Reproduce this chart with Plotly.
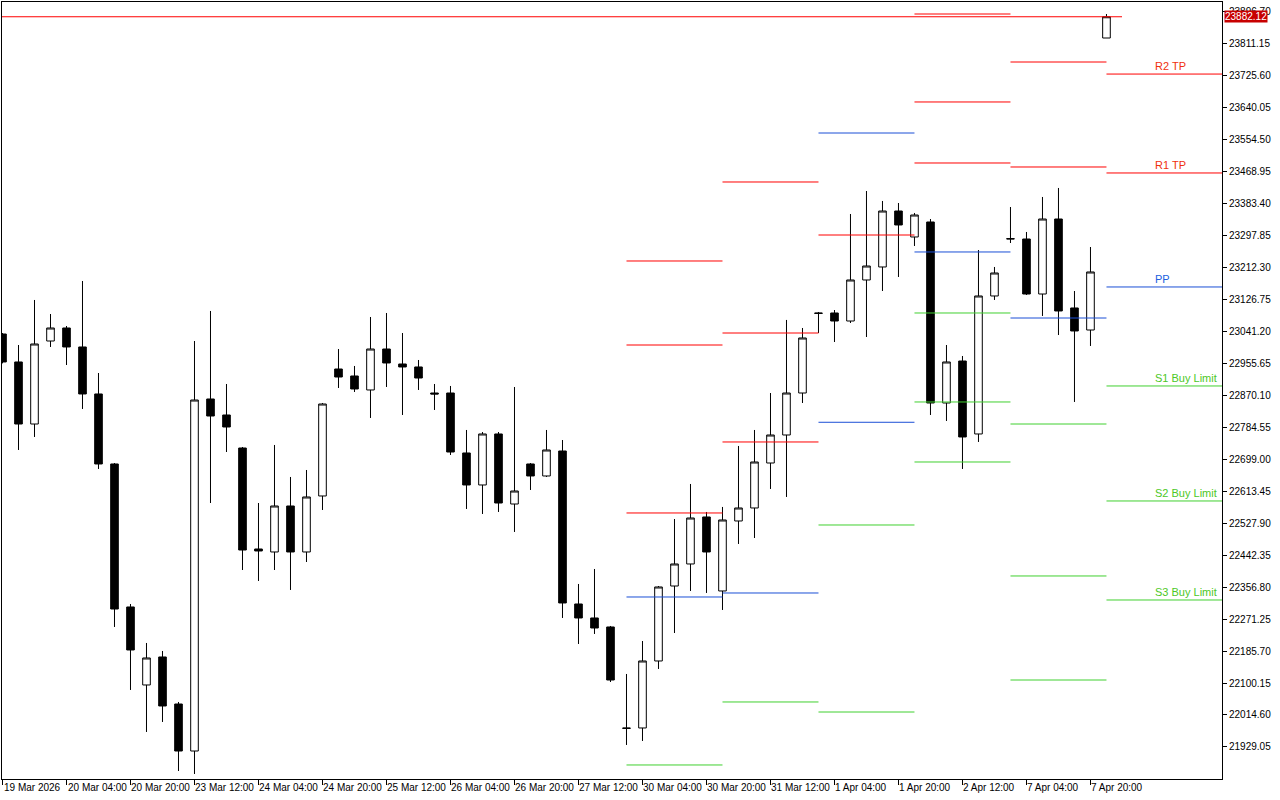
import plotly.graph_objects as go

# ---------------- data ----------------
x_tick_idx = [0, 4, 8, 12, 16, 20, 24, 28, 32, 36, 40, 44, 48, 52, 56, 60, 64, 68]
x_tick_labels = ["19 Mar 2026", "20 Mar 04:00", "20 Mar 20:00", "23 Mar 12:00", "24 Mar 04:00",
                 "24 Mar 20:00", "25 Mar 12:00", "26 Mar 04:00", "26 Mar 20:00", "27 Mar 12:00",
                 "30 Mar 04:00", "30 Mar 20:00", "31 Mar 12:00", "1 Apr 04:00", "1 Apr 20:00",
                 "2 Apr 12:00", "7 Apr 04:00", "7 Apr 20:00"]

y_tick_vals = [21929.05, 22014.60, 22100.15, 22185.70, 22271.25, 22356.80, 22442.35, 22527.90,
               22613.45, 22699.00, 22784.55, 22870.10, 22955.65, 23041.20, 23126.75, 23212.30,
               23297.85, 23383.40, 23468.95, 23554.50, 23640.05, 23725.60, 23811.15, 23896.70]

opens = [23033.6, 22958.8, 22792.9, 23014.9, 23049.7, 22998.9, 22873.2, 22686.0, 22303.5, 22094.9,
         22169.8, 22044.0, 21918.3, 22859.8, 22817.0, 22728.7, 22458.6, 22450.6, 22573.6, 22450.6,
         22600.4, 22940.0, 22921.3, 22883.9, 22993.5, 22953.4, 22945.4, 22875.8, 22875.8, 22715.4,
         22629.8, 22766.2, 22578.9, 22686.0, 22653.9, 22720.7, 22311.5, 22274.1, 22250.0, 21979.9,
         21979.9, 22159.1, 22359.6, 22418.5, 22544.2, 22346.3, 22533.5, 22568.3, 22688.6, 22763.5,
         22875.8, 23089.8, 23089.8, 23068.4, 23178.1, 23212.9, 23362.6, 23293.1, 23333.2, 22849.1,
         22961.4, 22766.2, 23135.3, 23287.7, 23287.7, 23140.6, 23341.2, 23103.2, 23044.3, 23825.3]
highs = [23036.3, 23004.2, 23124.6, 23087.1, 23055.0, 23175.4, 22929.3, 22688.6, 22311.5, 22207.2,
         22185.8, 22049.4, 23014.9, 23095.2, 22899.9, 22731.4, 22581.6, 22736.8, 22651.2, 22669.9,
         22849.1, 22993.5, 22948.1, 23079.1, 23089.8, 23036.3, 22964.1, 22899.9, 22894.6, 22776.9,
         22771.5, 22771.5, 22891.9, 22688.6, 22776.9, 22750.1, 22365.0, 22405.1, 22252.7, 22124.3,
         22212.5, 22359.6, 22538.8, 22632.5, 22557.6, 22571.0, 22734.1, 22776.9, 22875.8, 23071.2,
         23049.7, 23092.5, 23097.8, 23354.6, 23416.1, 23389.4, 23384.0, 23357.3, 23341.2, 23004.2,
         22974.8, 23258.3, 23212.9, 23373.3, 23306.5, 23400.1, 23424.2, 23148.6, 23266.3, 23889.5]
lows = [22955.0, 22723.4, 22758.2, 22998.9, 22950.7, 22833.1, 22672.6, 22250.0, 22081.5, 21969.2,
        21995.9, 21864.8, 21856.8, 22581.6, 22718.0, 22402.4, 22373.0, 22402.4, 22349.0, 22423.8,
        22562.9, 22889.2, 22878.5, 22809.0, 22891.9, 22817.0, 22883.9, 22830.4, 22710.0, 22565.6,
        22552.2, 22557.6, 22504.1, 22616.4, 22651.2, 22274.1, 22204.5, 22231.3, 22102.8, 21934.4,
        21945.1, 22137.7, 22233.9, 22346.3, 22341.0, 22295.5, 22472.0, 22488.0, 22619.1, 22597.7,
        22849.1, 23036.3, 23012.2, 23063.0, 23025.6, 23148.6, 23186.1, 23269.0, 22817.0, 22801.0,
        22672.6, 22744.8, 23124.6, 23277.0, 23138.0, 23081.8, 23030.9, 22851.8, 23001.6, 23825.3]
closes = [22958.8, 22792.9, 23006.9, 23049.7, 22998.9, 22873.2, 22686.0, 22298.1, 22188.5, 22167.1,
          22038.7, 21918.3, 22857.1, 22814.3, 22784.9, 22455.9, 22453.3, 22573.6, 22450.6, 22597.7,
          22846.4, 22918.6, 22886.6, 22993.5, 22956.1, 22945.4, 22915.9, 22873.2, 22718.0, 22629.8,
          22766.2, 22581.6, 22613.7, 22653.9, 22723.4, 22314.2, 22274.1, 22247.3, 22108.2, 21978.9,
          22159.1, 22357.0, 22418.5, 22541.5, 22450.6, 22536.2, 22568.3, 22691.3, 22763.5, 22875.8,
          23023.0, 23088.8, 23068.4, 23178.1, 23215.5, 23362.6, 23325.2, 23351.9, 22849.1, 22958.8,
          22758.2, 23135.3, 23196.8, 23288.5, 23140.6, 23341.2, 23095.2, 23041.7, 23199.5, 23882.12]

# daily pivot levels (start / end candle index of each day)
day_start = [39, 45, 51, 57, 63, 69]
day_end = [45, 51, 57, 63, 69, 80]
lvl_R3 = [23228.9, 23440.2, None, 23889.5, None, None]
lvl_R2 = [23004.2, 23036.3, 23571.2, 23654.2, 23761.1, 23728.9]
lvl_R1 = [22554.9, 22744.8, 23298.4, 23491.0, 23480.3, 23464.3]
lvl_PP = [22330.2, 22340.9, 22797.5, 23253.0, 23076.4, 23159.4]
lvl_S1 = [21880.9, 22049.4, 22522.8, 23089.8, 22792.9, 22894.6]
lvl_S2 = [None, None, 22022.6, 22851.8, 22386.4, 22587.0]
lvl_S3 = [None, None, None, 22691.3, 22108.2, 22322.2]

level_labels = ["R2 TP", "R1 TP", "PP", "S1 Buy Limit", "S2 Buy Limit", "S3 Buy Limit"]

bid_price = 23882.12

RED = "#ff0000"
BLUE = "#1a4fd6"
GREEN = "#40d030"

# colour of each level's segment, day by day
col_R3 = [RED] * 6
col_R2 = [RED, RED, BLUE, RED, RED, RED]
col_R1 = [RED] * 6
col_PP = [BLUE] * 6
col_S1 = [GREEN] * 6
col_S2 = [GREEN] * 6
col_S3 = [GREEN] * 6

# ---------------- figure ----------------
n = len(opens)
xs = list(range(n))
fig = go.Figure()
fig.add_trace(go.Candlestick(
    x=xs, open=opens, high=highs, low=lows, close=closes,
    increasing=dict(line=dict(color="black", width=1), fillcolor="white"),
    decreasing=dict(line=dict(color="black", width=1), fillcolor="black"),
    whiskerwidth=0, showlegend=False, hoverinfo="skip"))


def add_level(levels, colors):
    by_col = {}
    for s, e, v, c in zip(day_start, day_end, levels, colors):
        if v is None:
            continue
        px, py = by_col.setdefault(c, ([], []))
        px += [s, e, None]
        py += [v, v, None]
    for c, (px, py) in by_col.items():
        fig.add_trace(go.Scatter(x=px, y=py, mode="lines", line=dict(color=c, width=1),
                                 showlegend=False, hoverinfo="skip"))


for lv, cols in [(lvl_R3, col_R3), (lvl_R2, col_R2), (lvl_R1, col_R1), (lvl_PP, col_PP),
                 (lvl_S1, col_S1), (lvl_S2, col_S2), (lvl_S3, col_S3)]:
    add_level(lv, cols)

# bid line
fig.add_trace(go.Scatter(x=[-1, 69.97], y=[bid_price, bid_price], mode="lines",
                         line=dict(color=RED, width=1), showlegend=False, hoverinfo="skip"))

annotations = []
label_levels = [lvl_R2[-1], lvl_R1[-1], lvl_PP[-1], lvl_S1[-1], lvl_S2[-1], lvl_S3[-1]]
label_colors = ["#f0300c", "#f0300c", "#2060e0", "#4cc826", "#4cc826", "#4cc826"]
for txt, v, c in zip(level_labels, label_levels, label_colors):
    annotations.append(dict(x=71.9, y=v, xref="x", yref="y", text=txt, showarrow=False,
                            xanchor="left", yanchor="bottom", yshift=0,
                            font=dict(family="Liberation Sans", size=11, color=c)))

for xi, t in zip(x_tick_idx, x_tick_labels):
    annotations.append(dict(x=xi, y=0, xref="x", yref="paper", text=t, showarrow=False,
                            xanchor="left", yanchor="top", xshift=-1, yshift=-1,
                            font=dict(family="Liberation Sans", size=10, color="black")))

annotations.append(dict(x=1, y=bid_price, xref="paper", yref="y", text=f"{bid_price:.2f}",
                        showarrow=False, xanchor="left", yanchor="middle", xshift=2,
                        bgcolor="#c80000", borderpad=0,
                        font=dict(family="Liberation Sans", size=10, color="white")))

fig.update_layout(
    width=1280, height=800,
    margin=dict(l=2, r=58, t=2, b=21, autoexpand=False),
    paper_bgcolor="white", plot_bgcolor="white",
    showlegend=False, boxgap=0.32,
    annotations=annotations,
)
fig.update_xaxes(range=[-0.031, 76.22], showgrid=False, zeroline=False,
                 showline=True, linecolor="black", linewidth=1, mirror=True,
                 ticks="outside", ticklen=5, tickcolor="black",
                 tickvals=x_tick_idx, ticktext=[""] * len(x_tick_idx),
                 rangeslider=dict(visible=False))
fig.update_yaxes(side="right", range=[21843.4, 23921.6], showgrid=False, zeroline=False,
                 showline=True, linecolor="black", linewidth=1, mirror=True,
                 ticks="outside", ticklen=4, tickcolor="black",
                 tickvals=y_tick_vals, tickformat=".2f",
                 tickfont=dict(family="Liberation Sans", size=10, color="black"))

fig.write_html("out.html", config={"displayModeBar": False},
               post_script="document.body.style.margin='0';")
